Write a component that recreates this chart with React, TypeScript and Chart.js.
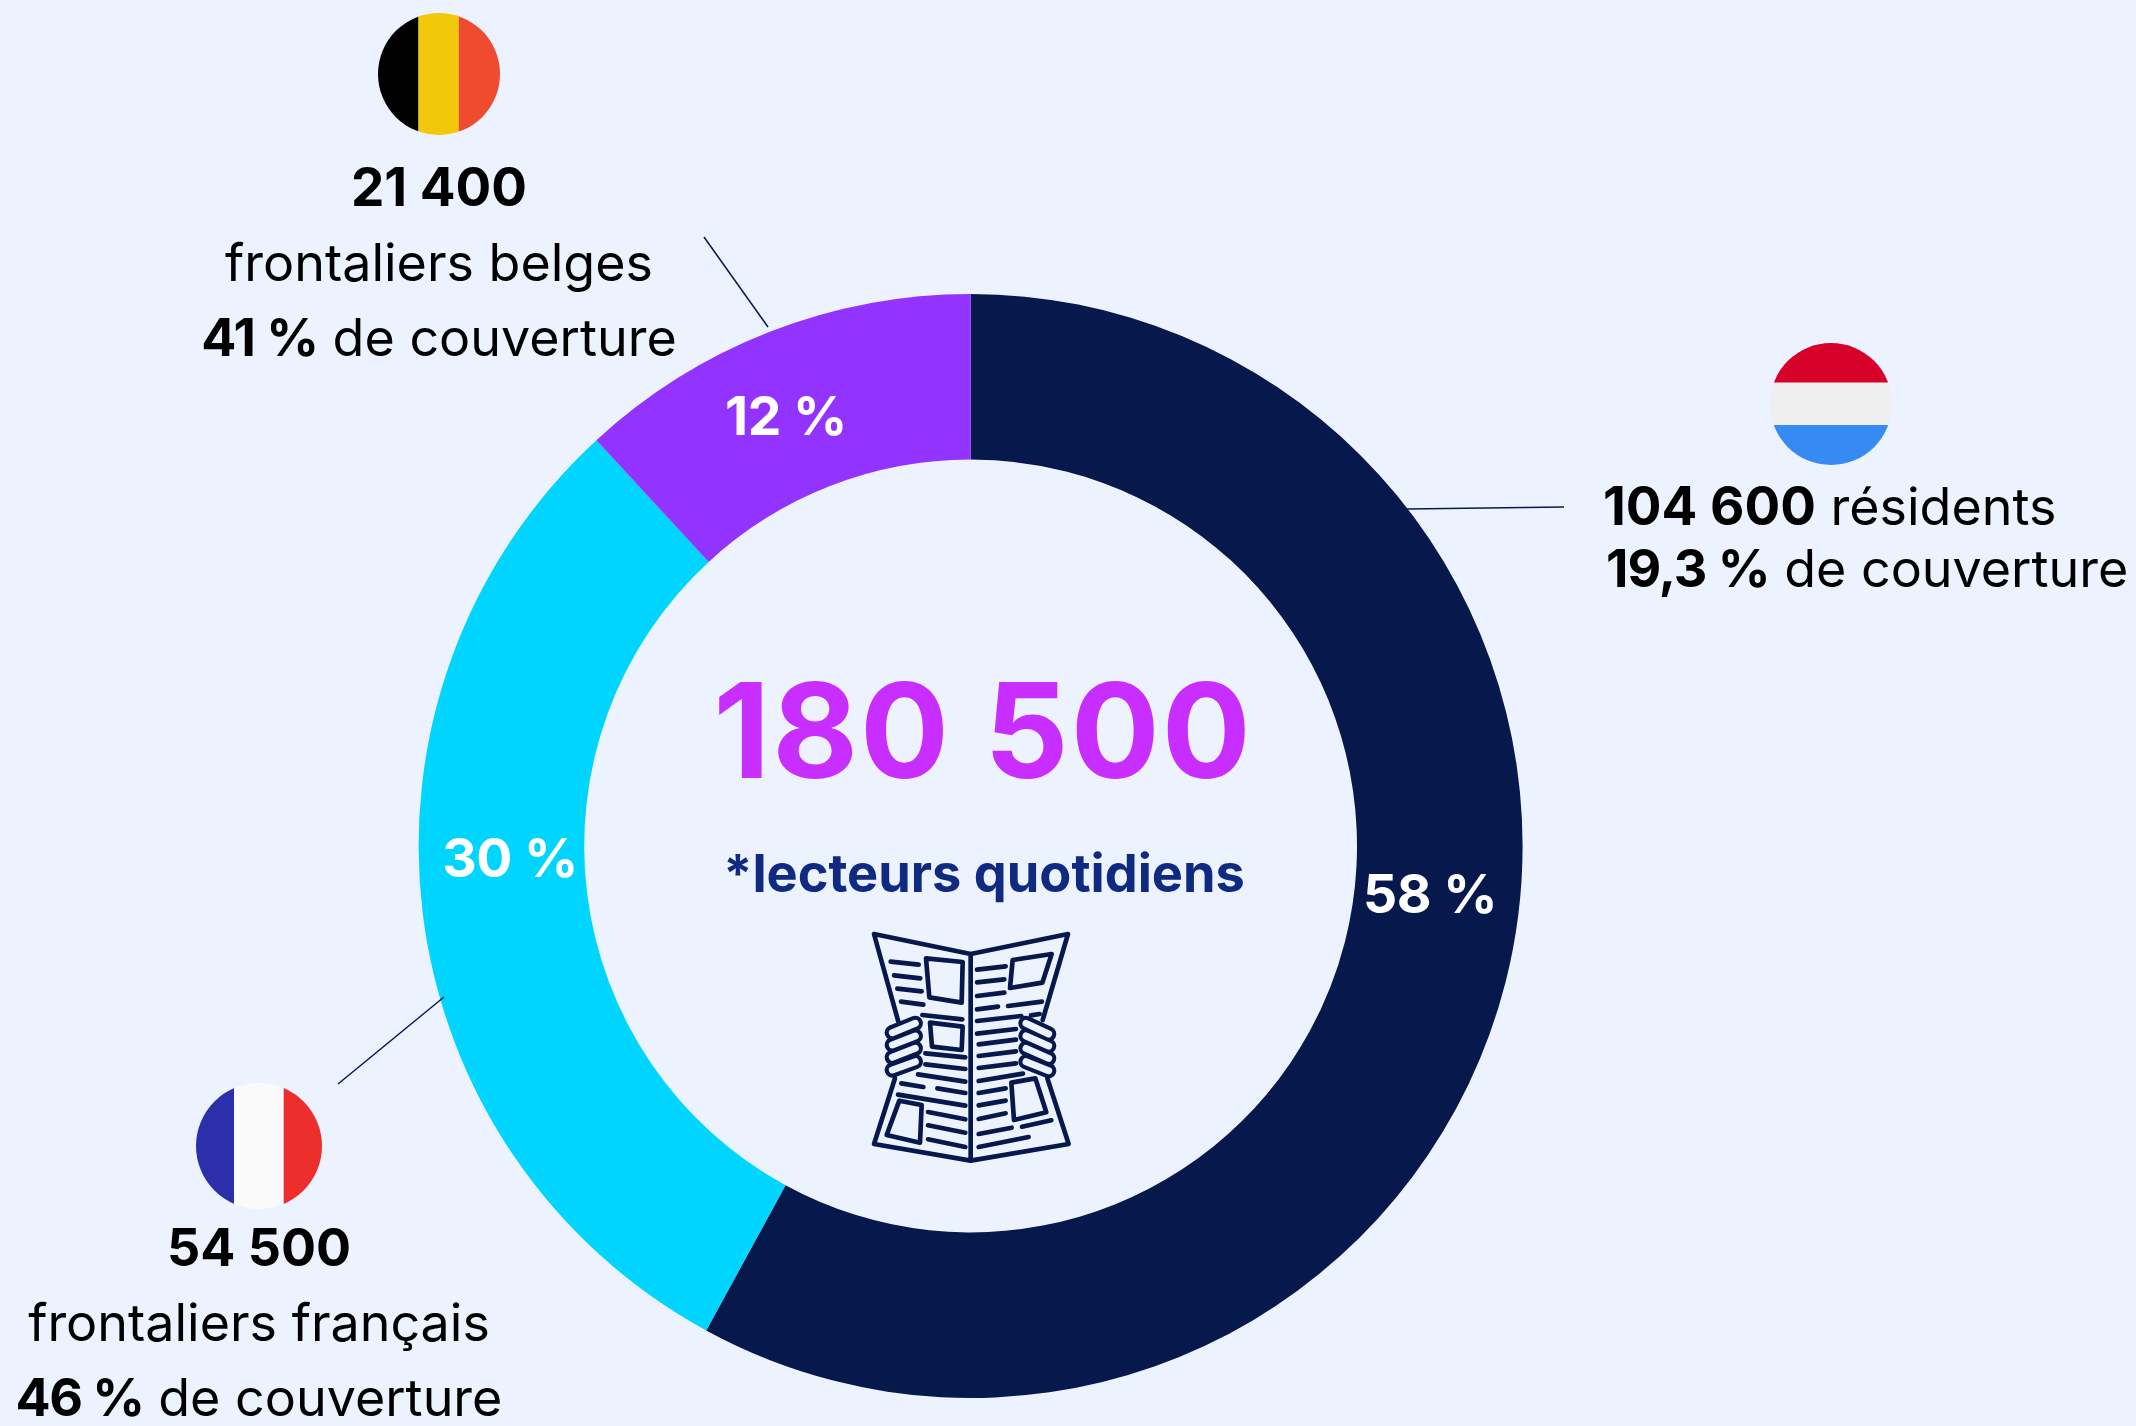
import React, { useEffect, useRef } from "react";
import { Chart, registerables } from "chart.js";

Chart.register(...registerables);

const categories = ["Résidents", "Frontaliers français", "Frontaliers belges"];
const readers = [104600, 54500, 21400];
const sliceColors = ["#06184C", "#00D5FF", "#9333FF"];
const sliceLabels = ["58 %", "30 %", "12 %"];

const BG = "#ECF3FF";
const INK = "#06184C";
const FONT = "Inter";

type Run = { t: string; b?: number; ls?: number };
type Line = { runs: Run[]; x: number; y: number; align: "center" | "left" };

const calloutLines: Line[] = [
  { runs: [{ t: "21 400", b: 53 }], x: 439, y: 206, align: "center" },
  { runs: [{ t: "frontaliers belges" }], x: 439, y: 281, align: "center" },
  { runs: [{ t: "41 %", b: 52, ls: -1 }, { t: " de couverture" }], x: 439, y: 356, align: "center" },
  { runs: [{ t: "104 600", b: 53 }, { t: " résidents" }], x: 1603, y: 525, align: "left" },
  { runs: [{ t: "19,3 %", b: 52, ls: -1 }, { t: " de couverture" }], x: 1606, y: 587, align: "left" },
  { runs: [{ t: "54 500", b: 52 }], x: 259, y: 1266, align: "center" },
  { runs: [{ t: "frontaliers français" }], x: 259, y: 1341, align: "center" },
  { runs: [{ t: "46 %", b: 52, ls: -1.5 }, { t: " de couverture" }], x: 259, y: 1416, align: "center" },
];

const sliceLabelPos = [[1430, 897], [510, 861], [786, 419]];
const leaders = [[704, 237, 768, 327], [1407, 509, 1564, 507], [444, 997, 338, 1084]];

const iconLines = [
  [152,155,236,164],[162,196,241,205],[172,236,245,244],[183,275,250,284],[247,315,367,328],[256,430,376,442],[256,463,376,477],
  [234,493,376,515],[184,520,250,531],[292,535,376,549],[174,554,376,587],[264,606,376,628],[264,646,376,668],[264,688,376,711],
  [411,179,497,169],[411,217,493,208],[411,258,493,248],[411,298,474,290],[504,288,606,275],[573,316,599,312],[411,333,544,318],
  [411,371,528,357],[416,403,528,389],[416,438,528,424],[416,474,528,460],[416,513,549,491],[416,549,497,535],[416,586,497,572],
  [416,627,497,610],[416,672,515,653],[546,650,634,631],[416,711,566,681],
];
const iconBoxes = [
  "258,145 368,156 365,278 268,262","270,338 368,350 365,420 276,410","178,572 245,585 240,698 140,675",
  "518,150 635,132 607,218 510,234","514,518 586,505 619,607 522,630",
];
const iconFingers = [
  [157,368,226,340],[157,405,226,378],[157,442,226,415],[157,480,226,455],
  [558,340,626,372],[558,378,626,408],[558,415,626,445],[558,455,626,482],
];

function Newspaper() {
  return (
    <svg viewBox="0 0 780 780" width={260} height={260} style={{ position: "absolute", left: 840, top: 910 }}
      fill="none" stroke={INK} strokeWidth={14} strokeLinecap="round" strokeLinejoin="round">
      <path d="M175 335 L102 72 L392 132 L684 72 L608 330 M165 505 L102 702 L392 752 L686 702 L622 505 M392 132 L392 752" />
      {iconLines.map((l, i) => <line key={i} x1={l[0]} y1={l[1]} x2={l[2]} y2={l[3]} />)}
      {iconBoxes.map((p, i) => <polygon key={i} points={p} />)}
      {iconFingers.map((l, i) => <line key={i} x1={l[0]} y1={l[1]} x2={l[2]} y2={l[3]} strokeWidth={46} />)}
      {iconFingers.map((l, i) => <line key={i} x1={l[0]} y1={l[1]} x2={l[2]} y2={l[3]} strokeWidth={21} stroke={BG} />)}
    </svg>
  );
}

function flag(ctx: CanvasRenderingContext2D, cx: number, cy: number, r: number, colors: string[], cuts: number[], vertical: boolean) {
  ctx.save();
  ctx.beginPath();
  ctx.arc(cx, cy, r, 0, Math.PI * 2);
  ctx.clip();
  const edges = vertical ? [cx - r, ...cuts, cx + r] : [cy - r, ...cuts, cy + r];
  colors.forEach((c, i) => {
    ctx.fillStyle = c;
    if (vertical) ctx.fillRect(edges[i], cy - r, edges[i + 1] - edges[i], r * 2);
    else ctx.fillRect(cx - r, edges[i], r * 2, edges[i + 1] - edges[i]);
  });
  ctx.restore();
}

const annotations = {
  id: "annotations",
  afterDraw(chart: any) {
    const ctx: any = chart.ctx;
    ctx.save();
    ctx.strokeStyle = INK;
    ctx.lineWidth = 1.5;
    leaders.forEach(([a, b, c, d]) => {
      ctx.beginPath();
      ctx.moveTo(a, b);
      ctx.lineTo(c, d);
      ctx.stroke();
    });
    flag(ctx, 439, 74, 61, ["#000000", "#F2C80A", "#EE4B2F"], [418.5, 458.7], true);
    flag(ctx, 1831, 404, 61, ["#D60029", "#EFEFEF", "#368BF3"], [382.7, 425], false);
    flag(ctx, 259, 1146, 63, ["#2B2FAB", "#FAFAFA", "#EC2F2D"], [234, 283.7], true);

    ctx.textBaseline = "alphabetic";
    ctx.textAlign = "left";
    ctx.fillStyle = "#000000";
    calloutLines.forEach((l) => {
      const fonts = l.runs.map((r) => (r.b ? `700 ${r.b}px ${FONT}` : `400 52px ${FONT}`));
      const widths = l.runs.map((r, i) => {
        ctx.font = fonts[i];
        ctx.letterSpacing = `${r.ls ?? 0}px`;
        return ctx.measureText(r.t).width;
      });
      const total = widths.reduce((a, b) => a + b, 0);
      let x = l.align === "center" ? l.x - total / 2 : l.x;
      l.runs.forEach((r, i) => {
        ctx.font = fonts[i];
        ctx.letterSpacing = `${r.ls ?? 0}px`;
        ctx.fillText(r.t, x, l.y);
        x += widths[i];
      });
    });

    ctx.textAlign = "center";
    ctx.textBaseline = "middle";
    ctx.fillStyle = "#FFFFFF";
    ctx.font = `700 53.5px ${FONT}`;
    ctx.letterSpacing = "-0.5px";
    sliceLabels.forEach((s, i) => ctx.fillText(s, sliceLabelPos[i][0], sliceLabelPos[i][1]));

    ctx.textBaseline = "alphabetic";
    ctx.fillStyle = "#C72EFF";
    ctx.font = `700 132px ${FONT}`;
    ctx.letterSpacing = "2px";
    ctx.fillText("180 500", 983, 778);
    ctx.letterSpacing = "0px";
    ctx.fillStyle = "#0F2A80";
    ctx.font = `700 52.3px ${FONT}`;
    ctx.fillText("*lecteurs quotidiens", 984, 892);
    ctx.restore();
  },
};

export default function App() {
  const ref = useRef<HTMLCanvasElement>(null);
  useEffect(() => {
    document.body.style.margin = "0";
    document.body.style.background = BG;
    const chart = new Chart(ref.current!, {
      type: "doughnut",
      data: {
        labels: categories,
        datasets: [{ data: readers, backgroundColor: sliceColors, borderWidth: 0 }],
      },
      options: {
        responsive: false,
        animation: false,
        cutout: "70%",
        layout: { padding: { left: 418.6, right: 613.4, top: 294, bottom: 28 } },
        plugins: { legend: { display: false }, tooltip: { enabled: false } },
      },
      plugins: [annotations],
    });
    return () => chart.destroy();
  }, []);
  return (
    <div style={{ position: "relative", width: 2136, height: 1426, background: BG, overflow: "hidden" }}>
      <canvas ref={ref} width={2136} height={1426} style={{ display: "block" }} />
      <Newspaper />
    </div>
  );
}
